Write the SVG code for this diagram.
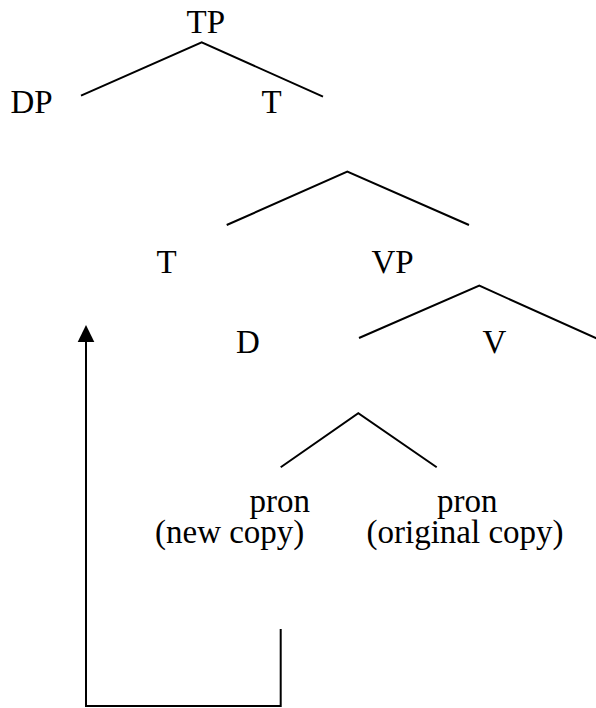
<svg xmlns="http://www.w3.org/2000/svg" width="596" height="708" viewBox="0 0 596 708">
<style>
text{font-family:"Liberation Serif","Times New Roman",serif;font-size:33px;fill:#000}
.e{stroke:#000;stroke-width:2;fill:none}
</style>
<rect width="596" height="708" fill="#fff"/>
<g id="connectors">
<polyline class="e" points="81,95.7 201.7,42.3 323,96.7"/>
<polyline class="e" points="226.7,225 347.3,171.7 469,225"/>
<polyline class="e" points="359,338 479.3,285.7 598,339"/>
<polyline class="e" points="280.7,467.3 358.3,413.3 436.7,467.3"/>
<polyline class="e" points="280.7,629 280.7,706 86,706 86,341"/>
<path d="M86 325 L94.3 342 L77.7 342 Z" fill="#000"/>
</g>
<g id="TP"><text x="186.5" y="32.7">TP</text></g>
<g id="DP"><text x="10.5" y="112.7">DP</text></g>
<g id="T1"><text x="261.5" y="113">T</text></g>
<g id="T2"><text x="156.5" y="272.7">T</text></g>
<g id="VP"><text x="371.5" y="273">VP</text></g>
<g id="D"><text x="236" y="352.7">D</text></g>
<g id="V"><text x="482.5" y="352.7">V</text></g>
<g id="pron-new"><text><tspan x="249.5" y="511.7">pron</tspan><tspan x="155" y="543">(new copy)</tspan></text></g>
<g id="pron-orig"><text><tspan x="437" y="511.7">pron</tspan><tspan x="366.5" y="543">(original copy)</tspan></text></g>
</svg>
